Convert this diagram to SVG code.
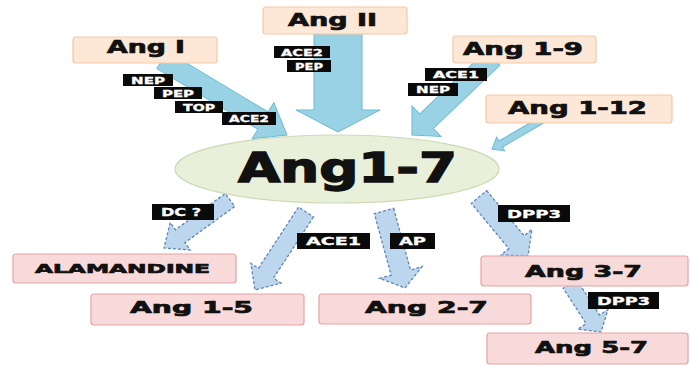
<svg xmlns="http://www.w3.org/2000/svg" width="690" height="366" viewBox="0 0 690 366">
<style>
.bg{fill:#ffffff}
.top{fill:#fde8d8;stroke:#f6c7a2;stroke-width:1.2}
.bot{fill:#f9dada;stroke:#e6a3a3;stroke-width:1.2}
.core{fill:#e8f0da;stroke:#cddab5;stroke-width:1.2}
.big{fill:#98d2e4;stroke:#6dbbd3;stroke-width:1}
.dash{fill:#bcd6ee;stroke:#5f86b8;stroke-width:1.3;stroke-dasharray:3 2}
.lbl{font-family:"DejaVu Sans","Liberation Sans",sans-serif;font-weight:bold;fill:#111;stroke:#111;stroke-width:0.7}
.big-lbl{stroke-width:1.4}
.tag{fill:#0a0a0a}
.tagt{font-family:"DejaVu Sans","Liberation Sans",sans-serif;font-weight:bold;fill:#ffffff;stroke:#ffffff;stroke-width:0.3;font-size:9px}
</style>
<rect class="bg" x="0" y="0" width="690" height="366"/>
<g id="connectors">
  <polygon class="big" transform="translate(162,60) rotate(30.96)" points="0,-10 117.8,-10 117.8,-21 145.8,0 117.8,21 117.8,10 0,10"/>
  <polygon class="big" transform="translate(338,28) rotate(90)" points="0,-24 82,-24 82,-42 104,0 82,42 82,24 0,24"/>
  <polygon class="big" transform="translate(493,58) rotate(136.45)" points="0,-10 91.8,-10 91.8,-21 111.8,0 91.8,21 91.8,10 0,10"/>
  <polygon class="big" transform="translate(542,120) rotate(149.9)" points="0,-3.5 47.8,-3.5 47.8,-8 57.8,0 47.8,8 47.8,3.5 0,3.5"/>
  <polygon class="dash" transform="translate(230,200) rotate(143.97)" points="0,-8 61.6,-8 61.6,-17 81.6,0 61.6,17 61.6,8 0,8"/>
  <polygon class="dash" transform="translate(306,212) rotate(123.2)" points="0,-9 73.2,-9 73.2,-18 93.2,0 73.2,18 73.2,9 0,9"/>
  <polygon class="dash" transform="translate(384,211) rotate(74.74)" points="0,-10 63.8,-10 63.8,-22 79.8,0 63.8,22 63.8,10 0,10"/>
  <polygon class="dash" transform="translate(479,197) rotate(50.3)" points="0,-10 58.7,-10 58.7,-20 76.7,0 58.7,20 58.7,10 0,10"/>
  <polygon class="dash" transform="translate(570,284) rotate(57.1)" points="0,-8 42.1,-8 42.1,-18 57.1,0 42.1,18 42.1,8 0,8"/>
  <rect class="tag" x="123" y="74" width="50" height="12"/><text class="tagt" x="131" y="83.5" textLength="34" lengthAdjust="spacingAndGlyphs">NEP</text>
  <rect class="tag" x="154" y="87" width="48" height="12"/><text class="tagt" x="162" y="96.5" textLength="32" lengthAdjust="spacingAndGlyphs">PEP</text>
  <rect class="tag" x="175" y="101" width="48" height="12"/><text class="tagt" x="183" y="110.5" textLength="32" lengthAdjust="spacingAndGlyphs">TOP</text>
  <rect class="tag" x="222" y="112" width="54" height="13"/><text class="tagt" x="229" y="122" textLength="40" lengthAdjust="spacingAndGlyphs">ACE2</text>
  <rect class="tag" x="274" y="46" width="56" height="12"/><text class="tagt" x="281" y="55.5" textLength="42" lengthAdjust="spacingAndGlyphs">ACE2</text>
  <rect class="tag" x="287" y="60" width="44" height="12"/><text class="tagt" x="295" y="69.5" textLength="28" lengthAdjust="spacingAndGlyphs">PEP</text>
  <rect class="tag" x="425" y="68" width="62" height="13"/><text class="tagt" x="433" y="78" textLength="46" lengthAdjust="spacingAndGlyphs">ACE1</text>
  <rect class="tag" x="408" y="83" width="50" height="13"/><text class="tagt" x="416" y="93" textLength="34" lengthAdjust="spacingAndGlyphs">NEP</text>
  <rect class="tag" x="152" y="204" width="62" height="16"/><text class="tagt" x="161" y="216" textLength="40" lengthAdjust="spacingAndGlyphs" style="font-size:11px">DC ?</text>
  <rect class="tag" x="297" y="233" width="73" height="16"/><text class="tagt" x="306" y="245" textLength="55" lengthAdjust="spacingAndGlyphs" style="font-size:11px">ACE1</text>
  <rect class="tag" x="390" y="233" width="45" height="16"/><text class="tagt" x="399" y="245" textLength="27" lengthAdjust="spacingAndGlyphs" style="font-size:11px">AP</text>
  <rect class="tag" x="498" y="205" width="72" height="17"/><text class="tagt" x="507" y="217.5" textLength="54" lengthAdjust="spacingAndGlyphs" style="font-size:11px">DPP3</text>
  <rect class="tag" x="588" y="292" width="71" height="17"/><text class="tagt" x="597" y="304.5" textLength="53" lengthAdjust="spacingAndGlyphs" style="font-size:11px">DPP3</text>
</g>
<g id="angI"><rect class="top" x="73" y="37" width="144" height="26" rx="3"/><text class="lbl" x="107" y="53" font-size="17" textLength="78" lengthAdjust="spacingAndGlyphs">Ang I</text></g>
<g id="angII"><rect class="top" x="263" y="7" width="144" height="27" rx="3"/><text class="lbl" x="288" y="26" font-size="17" textLength="89" lengthAdjust="spacingAndGlyphs">Ang II</text></g>
<g id="ang19"><rect class="top" x="453" y="36" width="143" height="27" rx="3"/><text class="lbl" x="463" y="55" font-size="17" textLength="120" lengthAdjust="spacingAndGlyphs">Ang 1-9</text></g>
<g id="ang112"><rect class="top" x="486" y="95" width="186" height="28" rx="3"/><text class="lbl" x="508" y="114" font-size="17" textLength="139" lengthAdjust="spacingAndGlyphs">Ang 1-12</text></g>
<g id="ang17"><ellipse class="core" cx="337" cy="169" rx="162" ry="34"/><text class="lbl big-lbl" x="238" y="182" font-size="40" textLength="219" lengthAdjust="spacingAndGlyphs">Ang1-7</text></g>
<g id="alamandine"><rect class="bot" x="13" y="254" width="223" height="29" rx="3"/><text class="lbl" x="35" y="273" font-size="13" textLength="175" lengthAdjust="spacingAndGlyphs">ALAMANDINE</text></g>
<g id="ang15"><rect class="bot" x="91" y="294" width="213" height="31" rx="3"/><text class="lbl" x="130" y="313" font-size="16" textLength="123" lengthAdjust="spacingAndGlyphs">Ang 1-5</text></g>
<g id="ang27"><rect class="bot" x="319" y="294" width="212" height="30" rx="3"/><text class="lbl" x="365" y="313" font-size="16" textLength="123" lengthAdjust="spacingAndGlyphs">Ang 2-7</text></g>
<g id="ang37"><rect class="bot" x="481" y="256" width="207" height="30" rx="3"/><text class="lbl" x="525" y="277" font-size="16" textLength="117" lengthAdjust="spacingAndGlyphs">Ang 3-7</text></g>
<g id="ang57"><rect class="bot" x="487" y="333" width="201" height="31" rx="3"/><text class="lbl" x="535" y="353" font-size="16" textLength="113" lengthAdjust="spacingAndGlyphs">Ang 5-7</text></g>
</svg>
